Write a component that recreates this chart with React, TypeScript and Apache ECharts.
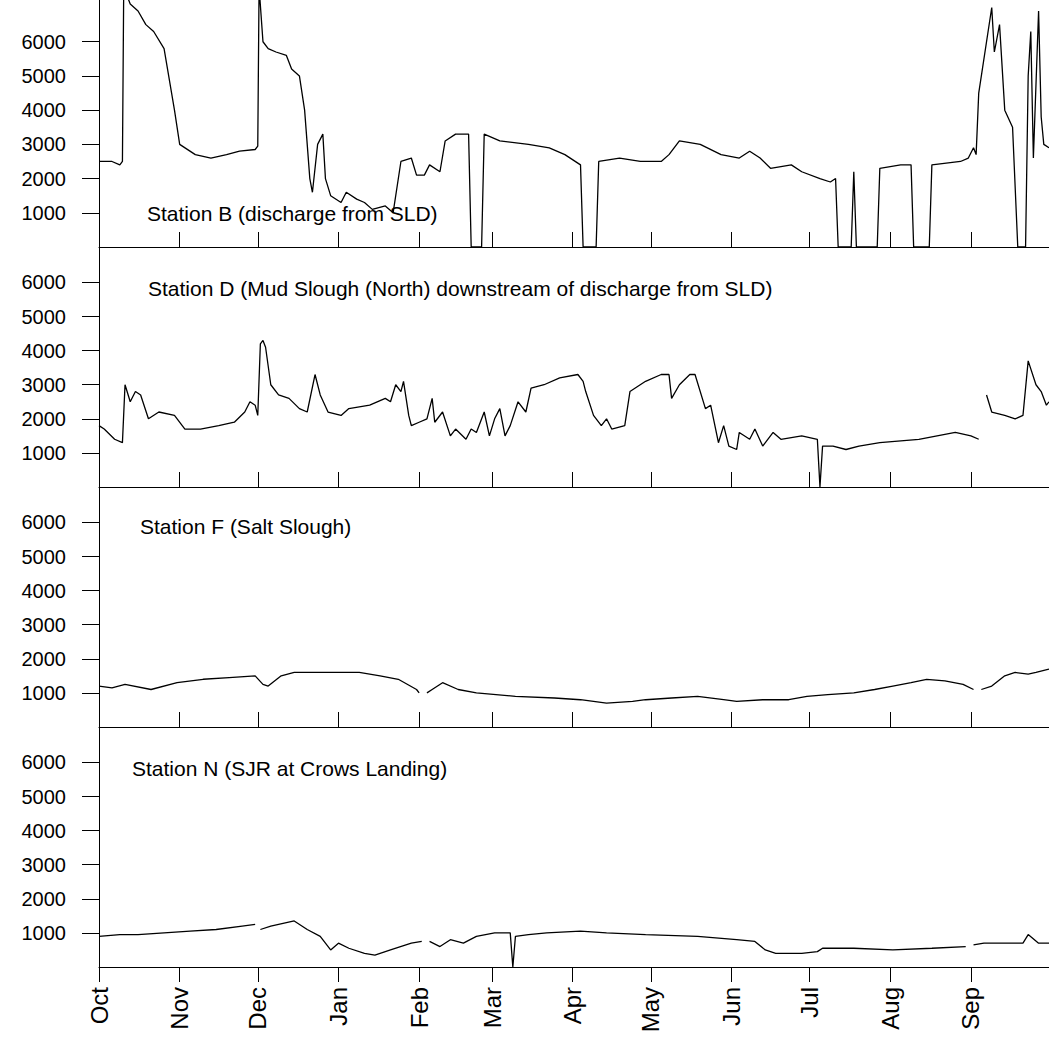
import { useEffect, useRef } from "react";
import * as echarts from "echarts";

// day of water year (0 = Oct 1), value; null = gap
const monthLabels = ["Oct", "Nov", "Dec", "Jan", "Feb", "Mar", "Apr", "May", "Jun", "Jul", "Aug", "Sep"];
const monthStarts = [0, 31, 61, 92, 123, 151, 182, 212, 243, 273, 304, 335];
const yTicks = [1000, 2000, 3000, 4000, 5000, 6000];
const stationTitles = [
  "Station B (discharge from SLD)",
  "Station D (Mud Slough (North) downstream of discharge from SLD)",
  "Station F (Salt Slough)",
  "Station N (SJR at Crows Landing)",
];

const stationB: [number, number | null][] = [
  [0, 2500], [5, 2500], [8, 2400], [9, 2500], [9.5, 7600], [12, 7100], [15, 6900], [18, 6500], [21, 6300],
  [25, 5800], [29, 4000], [31, 3000], [37, 2700], [43, 2600], [49, 2700], [54, 2800], [60, 2850], [61, 2950],
  [61.5, 7600], [63, 6000], [65, 5800], [68, 5700], [72, 5600], [74, 5200], [77, 5000], [79, 4000], [81, 2000],
  [82, 1600], [84, 3000], [86, 3300], [87, 2000], [89, 1500], [93, 1300], [95, 1600], [99, 1400], [102, 1300],
  [105, 1100], [110, 1200], [113, 1000], [116, 2500], [120, 2600], [122, 2100], [125, 2100], [127, 2400],
  [131, 2200], [133, 3100], [137, 3300], [142, 3300], [143, 0], [147, 0], [148, 3300], [154, 3100],
  [165, 3000], [173, 2900], [179, 2700], [185, 2400], [186, 0], [191, 0], [192, 2500], [200, 2600],
  [208, 2500], [216, 2500], [219, 2700], [223, 3100], [231, 3000], [239, 2700], [246, 2600], [250, 2800],
  [254, 2600], [258, 2300], [266, 2400], [270, 2200], [277, 2000], [281, 1900], [283, 2000], [284, 0],
  [289, 0], [290, 2200], [291, 0], [299, 0], [300, 2300], [308, 2400], [312, 2400], [313, 0], [319, 0],
  [320, 2400], [331, 2500], [334, 2600], [336, 2900], [337, 2700], [338, 4500], [343, 7000], [344, 5700],
  [346, 6500], [348, 4000], [351, 3500], [353, 0], [356, 0], [357, 5000], [358, 6300], [359, 2600],
  [361, 6900], [362, 3800], [363, 3000], [365, 2900],
];

const stationD: [number, number | null][] = [
  [0, 1800], [2, 1700], [6, 1400], [9, 1300], [10, 3000], [12, 2500], [14, 2800], [16, 2700], [19, 2000],
  [23, 2200], [29, 2100], [33, 1700], [39, 1700], [46, 1800], [52, 1900], [56, 2200], [58, 2500], [60, 2400],
  [61, 2100], [62, 4200], [63, 4300], [64, 4100], [66, 3000], [69, 2700], [73, 2600], [77, 2300], [80, 2200],
  [83, 3300], [85, 2700], [88, 2200], [93, 2100], [96, 2300], [104, 2400], [110, 2600], [112, 2500],
  [114, 3000], [116, 2800], [117, 3100], [119, 2100], [120, 1800], [123, 1900], [126, 2000], [128, 2600],
  [129, 1900], [132, 2200], [135, 1500], [137, 1700], [141, 1400], [143, 1700], [145, 1600], [148, 2200],
  [150, 1500], [152, 2000], [154, 2300], [156, 1500], [158, 1800], [161, 2500], [164, 2200], [166, 2900],
  [171, 3000], [177, 3200], [184, 3300], [186, 3100], [187, 2800], [190, 2100], [193, 1800], [195, 2000],
  [197, 1700], [202, 1800], [204, 2800], [210, 3100], [216, 3300], [219, 3300], [220, 2600], [223, 3000],
  [227, 3300], [229, 3300], [233, 2300], [235, 2400], [238, 1300], [240, 1800], [242, 1200], [245, 1100],
  [246, 1600], [250, 1400], [252, 1700], [255, 1200], [259, 1600], [262, 1400], [270, 1500], [276, 1400],
  [277, 0], [278, 1200], [282, 1200], [287, 1100], [292, 1200], [300, 1300], [315, 1400], [329, 1600],
  [335, 1500], [338, 1400], [339, null], [341, 2700], [343, 2200], [348, 2100], [352, 2000], [355, 2100],
  [357, 3700], [360, 3000], [362, 2800], [364, 2400], [365, 2500],
];

const stationF: [number, number | null][] = [
  [0, 1200], [5, 1150], [10, 1250], [20, 1100], [30, 1300], [40, 1400], [50, 1450], [60, 1500], [63, 1250],
  [65, 1200], [70, 1500], [75, 1600], [85, 1600], [100, 1600], [108, 1500], [115, 1400], [122, 1100],
  [123, 1000], [124, null], [126, 1000], [128, 1100], [132, 1300], [138, 1100], [145, 1000], [160, 900],
  [175, 850], [185, 800], [195, 700], [205, 750], [210, 800], [220, 850], [230, 900], [240, 800], [245, 750],
  [255, 800], [265, 800], [272, 900], [280, 950], [290, 1000], [298, 1100], [305, 1200], [312, 1300],
  [318, 1400], [325, 1350], [332, 1250], [336, 1100], [337, null], [339, 1100], [343, 1200], [348, 1500],
  [352, 1600], [357, 1550], [360, 1600], [365, 1700],
];

const stationN: [number, number | null][] = [
  [0, 900], [8, 950], [15, 950], [25, 1000], [35, 1050], [45, 1100], [55, 1200], [60, 1250], [61, null],
  [62, 1100], [66, 1200], [75, 1350], [80, 1100], [85, 900], [89, 500], [92, 700], [96, 550], [102, 400],
  [106, 350], [112, 500], [120, 700], [124, 750], [125, null], [127, 750], [131, 600], [135, 800], [140, 700],
  [145, 900], [152, 1000], [158, 1000], [159, 0], [160, 900], [165, 950], [172, 1000], [185, 1050],
  [195, 1000], [210, 950], [230, 900], [245, 800], [252, 750], [256, 500], [260, 400], [270, 400], [276, 450],
  [278, 550], [290, 550], [305, 500], [320, 550], [333, 600], [334, null], [336, 650], [340, 700], [355, 700],
  [357, 950], [361, 700], [365, 700],
];

const allStations = [stationB, stationD, stationF, stationN];
const panelTops = [0, 246, 487, 727];
const panelHeights = [247, 241, 240, 240];
const panelMax = [7220, 7070, 7040, 7040];
const titlePos = [[147, 213], [148, 288], [140, 526], [132, 768]];

const FONT = "Liberation Sans, Arial, sans-serif";

export default function App() {
  const ref = useRef<HTMLDivElement>(null);

  useEffect(() => {
    if (!ref.current) return;
    const chart = echarts.init(ref.current, undefined, { renderer: "svg" });
    const grids = panelTops.map((t, i) => ({ left: 99, right: 0, top: t, height: panelHeights[i] }));
    const xAxes = panelTops.map((_, i) => ({
      type: "value" as const,
      gridIndex: i,
      min: 0,
      max: 365,
      axisLine: { show: true, lineStyle: { color: "#000", width: 1 } },
      axisTick: {
        show: true,
        inside: i < 3,
        length: 15,
        customValues: monthStarts,
        lineStyle: { color: "#000" },
      },
      axisLabel: {
        show: i === 3,
        customValues: monthStarts,
        rotate: 90,
        fontSize: 24,
        color: "#000",
        fontFamily: FONT,
        margin: 20,
        formatter: (v: number) => monthLabels[monthStarts.indexOf(v)] ?? "",
      },
      splitLine: { show: false },
    }));
    const yAxes = panelTops.map((_, i) => ({
      type: "value" as const,
      gridIndex: i,
      min: 0,
      max: panelMax[i],
      axisLine: { show: true, lineStyle: { color: "#000" } },
      axisTick: { show: true, length: 17, customValues: yTicks, lineStyle: { color: "#000" } },
      axisLabel: {
        customValues: yTicks,
        fontSize: 20,
        color: "#000",
        fontFamily: FONT,
        margin: 33,
        formatter: (v: number) => String(v),
      },
      splitLine: { show: false },
    }));
    chart.setOption({
      animation: false,
      backgroundColor: "#fff",
      grid: grids,
      xAxis: xAxes,
      yAxis: yAxes,
      graphic: stationTitles.map((t, i) => ({
        type: "text",
        x: titlePos[i][0],
        y: titlePos[i][1],
        style: { text: t, fontSize: 21, fontFamily: FONT, fill: "#000", textVerticalAlign: "middle" },
      })),
      series: allStations.map((d, i) => ({
        type: "line",
        xAxisIndex: i,
        yAxisIndex: i,
        data: d.map(([x, y]) => [x, y === null ? "-" : y]),
        showSymbol: false,
        connectNulls: false,
        lineStyle: { color: "#000", width: 1.3 },
        clip: true,
      })),
    });
    return () => chart.dispose();
  }, []);

  return (
    <div
      ref={ref}
      style={{ position: "absolute", left: 0, top: 0, width: 1049, height: 1061, background: "#fff" }}
    />
  );
}
